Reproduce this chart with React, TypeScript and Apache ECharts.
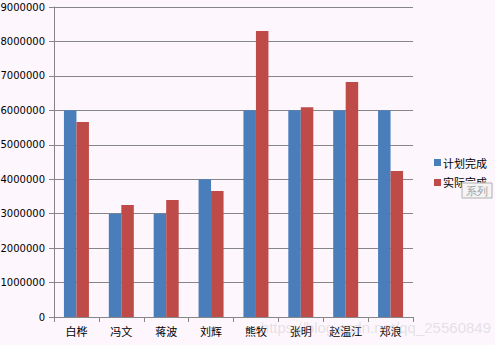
import React, { useEffect, useRef } from "react";
import * as echarts from "echarts";

const categories = ["白桦", "冯文", "蒋波", "刘辉", "熊牧", "张明", "赵温江", "郑浪"];
const planned = [6000000, 3000000, 3000000, 4000000, 6000000, 6000000, 6000000, 6000000];
const actual = [5660000, 3250000, 3400000, 3660000, 8300000, 6090000, 6820000, 4240000];
const seriesNames = ["计划完成", "实际完成"];

export default function App() {
  const ref = useRef<HTMLDivElement>(null);
  useEffect(() => {
    const chart = echarts.init(ref.current!, null, { renderer: "svg" });
    chart.setOption({
      animation: false,
      backgroundColor: "#fdf6fd",
      textStyle: { fontFamily: "'Noto Sans CJK SC', 'DejaVu Sans', sans-serif" },
      grid: { left: 54, right: 82, top: 7, bottom: 28, containLabel: false, outerBoundsMode: "none" },
      legend: {
        orient: "vertical",
        left: 429,
        top: 152,
        itemWidth: 7,
        itemHeight: 7,
        itemGap: 9,
        icon: "rect",
        textStyle: { fontSize: 11, color: "#000", padding: [0, 0, 0, -3] },
        data: seriesNames,
      },
      xAxis: {
        type: "category",
        data: categories,
        boundaryGap: true,
        axisLine: { lineStyle: { color: "#868686" } },
        axisTick: { show: true, length: 5, alignWithLabel: false, lineStyle: { color: "#868686" } },
        axisLabel: { fontSize: 11, color: "#000", margin: 8, interval: 0 },
      },
      yAxis: {
        type: "value",
        min: 0,
        max: 9000000,
        interval: 1000000,
        axisLine: { show: true, lineStyle: { color: "#868686" } },
        axisTick: { show: true, length: 5, lineStyle: { color: "#868686" } },
        axisLabel: {
          fontSize: 10,
          color: "#000",
          margin: 9,
          fontFamily: "'DejaVu Sans', sans-serif",
          formatter: (v: number) => String(v),
        },
        splitLine: { lineStyle: { color: "#868686", width: 1 } },
      },
      series: [
        {
          name: seriesNames[0],
          type: "bar",
          data: planned,
          barWidth: 12.5,
          barGap: "0%",
          itemStyle: { color: "#4a7ebb" },
        },
        {
          name: seriesNames[1],
          type: "bar",
          data: actual,
          barWidth: 12.5,
          barGap: "0%",
          itemStyle: { color: "#be4b48" },
        },
      ],
      graphic: [
        {
          type: "text",
          right: 4,
          top: 320,
          style: {
            text: "https://blog.csdn.net/qq_25560849",
            fontSize: 15,
            fill: "rgba(190,190,190,0.4)",
            fontFamily: "'Liberation Sans', sans-serif",
          },
          z: 100,
        },
        {
          type: "rect",
          shape: { x: 462, y: 183, width: 30, height: 15 },
          style: { fill: "#f4f4f4", stroke: "#b0b0b0", lineWidth: 1 },
          z: 100,
        },
        {
          type: "text",
          x: 466,
          y: 185,
          style: { text: "系列", fontSize: 11, fill: "#a0a0a0" },
          z: 101,
        },
      ],
    });
    return () => chart.dispose();
  }, []);
  return (
    <div
      ref={ref}
      style={{ position: "fixed", left: 0, top: 0, width: 495, height: 345 }}
    />
  );
}
